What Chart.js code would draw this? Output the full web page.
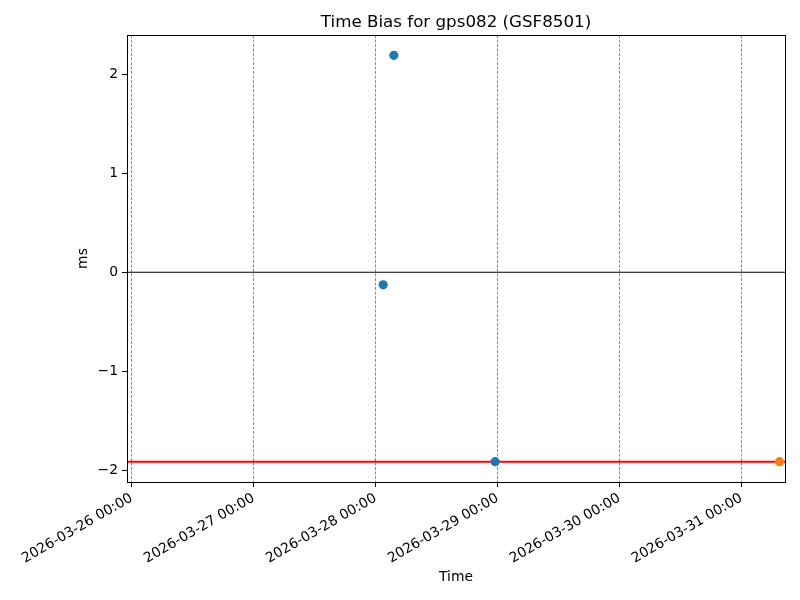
<!DOCTYPE html>
<html>
<head>
<meta charset="utf-8">
<script src="https://cdn.jsdelivr.net/npm/chart.js@4/dist/chart.umd.min.js"></script>
<style>
  html, body { margin: 0; padding: 0; background: #fff; }
</style>
</head>
<body>
<canvas id="biasChart" width="800" height="600"></canvas>
<script>
// data
const BASE_TIME = "2026-03-26 00:00";
const tickLabels = [
  "2026-03-26 00:00", "2026-03-27 00:00", "2026-03-28 00:00",
  "2026-03-29 00:00", "2026-03-30 00:00", "2026-03-31 00:00"
];
const yTicks = [-2, -1, 0, 1, 2];
const blueTimes = ["2026-03-28 01:30", "2026-03-28 03:36", "2026-03-28 23:32"];
const blueValues = [-0.127, 2.19, -1.912];
const orangeTimes = ["2026-03-31 07:30"];
const orangeValues = [-1.912];
const meanBias = -1.912;
const xRange = ["2026-03-25 23:05", "2026-03-31 08:35"];
const yRange = [-2.117, 2.395];

// hours since BASE_TIME
function hrs(s) {
  const p = t => {
    const [d, hm] = t.split(" ");
    const [Y, M, D] = d.split("-").map(Number);
    const [h, m] = hm.split(":").map(Number);
    return Date.UTC(Y, M - 1, D, h, m);
  };
  return (p(s) - p(BASE_TIME)) / 3600000;
}

const xMin = hrs(xRange[0]);
const xMax = hrs(xRange[1]);
const tickHours = tickLabels.map(hrs);
const FONT = "'DejaVu Sans', sans-serif";

// matplotlib-ish box around the axes
const frameBox = {
  id: "frameBox",
  afterDraw(chart) {
    const { ctx, chartArea: a } = chart;
    ctx.save();
    ctx.strokeStyle = "#000";
    ctx.lineWidth = 1;
    ctx.strokeRect(Math.round(a.left) + 0.5, Math.round(a.top) + 0.5,
                   Math.round(a.right - a.left), Math.round(a.bottom - a.top));
    ctx.restore();
  }
};

new Chart(document.getElementById("biasChart"), {
  type: "scatter",
  data: {
    datasets: [
      {
        data: blueTimes.map((t, i) => ({ x: hrs(t), y: blueValues[i] })),
        backgroundColor: "#1f77b4", borderColor: "#1f77b4",
        pointRadius: 4.6, pointBorderWidth: 0, order: 0
      },
      {
        data: orangeTimes.map((t, i) => ({ x: hrs(t), y: orangeValues[i] })),
        backgroundColor: "#ff7f0e", borderColor: "#ff7f0e",
        pointRadius: 4.6, pointBorderWidth: 0, order: 0
      },
      {
        type: "line",
        data: [{ x: xMin, y: meanBias }, { x: xMax, y: meanBias }],
        borderColor: "#ff0000", borderWidth: 2, pointRadius: 0, order: 2
      },
      {
        type: "line",
        data: [{ x: xMin, y: 0 }, { x: xMax, y: 0 }],
        borderColor: "#000", borderWidth: 1.1, pointRadius: 0, order: 3
      }
    ]
  },
  options: {
    responsive: false,
    animation: false,
    devicePixelRatio: 1,
    layout: { padding: { left: 0, right: 15, top: 0, bottom: 0 } },
    plugins: {
      legend: { display: false },
      tooltip: { enabled: false },
      title: {
        display: true,
        text: "Time Bias for gps082 (GSF8501)",
        color: "#000",
        fullSize: false,
        font: { family: FONT, size: 16.7, weight: "normal", lineHeight: 1.2 },
        padding: { top: 13, bottom: 2 }
      }
    },
    scales: {
      x: {
        type: "linear",
        min: xMin, max: xMax,
        afterBuildTicks: s => { s.ticks = tickHours.map(v => ({ value: v })); },
        afterFit: s => { s.height = 118; },
        ticks: {
          autoSkip: false,
          minRotation: 30, maxRotation: 30,
          color: "#000",
          padding: 3,
          font: { family: FONT, size: 13.9 },
          callback: v => tickLabels[tickHours.indexOf(v)]
        },
        grid: {
          color: "#4a77a2",
          lineWidth: 0.8,
          drawTicks: true,
          tickLength: 5,
          tickColor: "#000",
          tickWidth: 1,
          tickBorderDash: []
        },
        border: { display: true, color: "#000", width: 1, dash: [3, 1.5] },
        title: {
          display: true, text: "Time", color: "#000",
          font: { family: FONT, size: 13.9 },
          padding: { top: 0, bottom: 14 }
        }
      },
      y: {
        min: yRange[0], max: yRange[1],
        afterBuildTicks: s => { s.ticks = yTicks.map(v => ({ value: v })); },
        afterFit: s => { s.width = 127; },
        ticks: {
          color: "#000",
          padding: 4,
          font: { family: FONT, size: 13.9 },
          callback: v => String(v).replace("-", "\u2212")
        },
        grid: {
          drawOnChartArea: false,
          drawTicks: true,
          tickLength: 5,
          tickColor: "#000",
          tickWidth: 1
        },
        border: { display: true, color: "#000", width: 1 },
        title: {
          display: true, text: "ms", color: "#000",
          font: { family: FONT, size: 13.9 },
          padding: { top: 75, bottom: 0 }
        }
      }
    }
  },
  plugins: [frameBox]
});
</script>
</body>
</html>
